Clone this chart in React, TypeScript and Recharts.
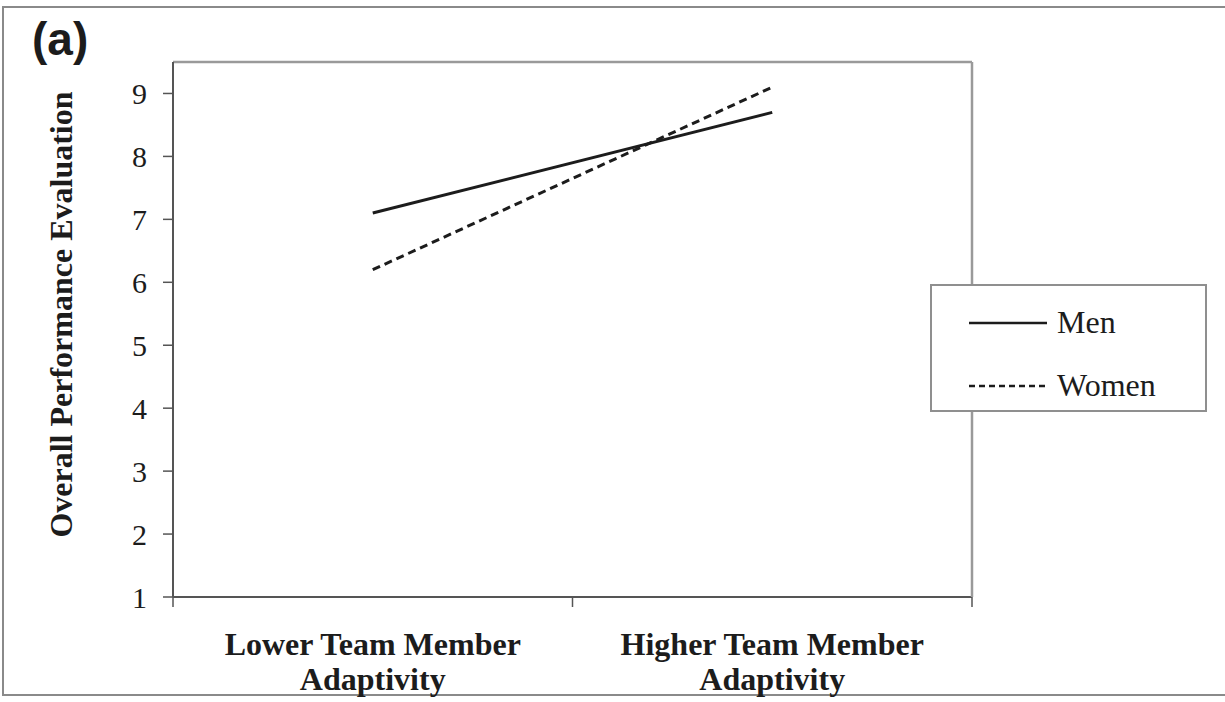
import { LineChart, Line, XAxis, YAxis, Legend } from 'recharts';

const categories = [
  ['Lower Team Member', 'Adaptivity'],
  ['Higher Team Member', 'Adaptivity'],
];
const men = [7.1, 8.7];
const women = [6.2, 9.1];
const yTicks = [1, 2, 3, 4, 5, 6, 7, 8, 9];
const yLabel = 'Overall Performance Evaluation';
const seriesNames = { men: 'Men', women: 'Women' };

const data = categories.map((c, i) => ({ x: i + 0.5, men: men[i], women: women[i] }));
const catTicks = categories.map((_, i) => i + 0.5);
const sepTicks = [0, ...categories.map((_, i) => i + 1)];

const SERIF = '"Liberation Serif", "Times New Roman", serif';
const INK = '#1c1c1c';
const FRAME = '#8a8a8a';

const dashes: Record<string, string | undefined> = { men: undefined, women: '8 5' };
const legendDashes: Record<string, string | undefined> = { men: undefined, women: '6 4' };

function CategoryTick(props: any) {
  const { x, y, payload } = props;
  const lines = categories[Math.floor(payload.value)] || [];
  return (
    <text x={x} y={y} textAnchor="middle" fontFamily={SERIF} fontWeight="bold" fontSize={32} fill={INK}>
      {lines.map((l, i) => (
        <tspan key={i} x={x} y={y + 57 + i * 35}>
          {l}
        </tspan>
      ))}
    </text>
  );
}

function NoLabel() {
  return <g />;
}

function YTitle(props: any) {
  const vb = props.viewBox || {};
  const cx = vb.x + 72;
  const cy = vb.y + vb.height / 2 - 15;
  return (
    <text
      x={cx}
      y={cy}
      transform={`rotate(-90, ${cx}, ${cy})`}
      textAnchor="middle"
      fontFamily={SERIF}
      fontWeight="bold"
      fontSize={32}
      fill={INK}
    >
      {yLabel}
    </text>
  );
}

function LegendBox(props: any) {
  const items = props.payload || [];
  return (
    <svg width={277} height={128} style={{ display: 'block' }}>
      <rect x={1} y={1} width={275} height={126} fill="#fff" stroke="#8f8f8f" strokeWidth={2} />
      {items.map((it: any, i: number) => {
        const key = it.dataKey as string;
        const ly = 39 + i * 63;
        return (
          <g key={key}>
            <line x1={39} x2={117} y1={ly} y2={ly} stroke={INK} strokeWidth={2.5} strokeDasharray={legendDashes[key]} />
            <text x={127} y={ly + 10} fontFamily={SERIF} fontSize={32} fill={INK}>
              {it.value}
            </text>
          </g>
        );
      })}
    </svg>
  );
}

export default function App() {
  return (
    <div style={{ position: 'absolute', left: 0, top: 0, width: 1225, height: 702, overflow: 'hidden', background: '#fff' }}>
      <svg width={1225} height={702} style={{ position: 'absolute', left: 0, top: 0 }}>
        <line x1={3} y1={7} x2={1225} y2={7} stroke={FRAME} strokeWidth={2} />
        <line x1={3} y1={6} x2={3} y2={696} stroke={FRAME} strokeWidth={2} />
        <line x1={3} y1={695} x2={1225} y2={695} stroke={FRAME} strokeWidth={2} />
        <text x={32} y={55} fontFamily='"Liberation Sans", Arial, sans-serif' fontWeight="bold" fontSize={46} fill={INK}>
          (a)
        </text>
      </svg>
      <div style={{ position: 'absolute', left: 0, top: 0 }}>
        <LineChart width={1225} height={702} data={data} margin={{ top: 61, right: 252, bottom: 0, left: 0 }}>
          <XAxis
            xAxisId="a_sep"
            type="number"
            dataKey="x"
            domain={[0, categories.length]}
            ticks={sepTicks}
            tick={<NoLabel />}
            tickSize={10}
            height={1}
            axisLine={{ stroke: '#555', strokeWidth: 2 }}
            tickLine={{ stroke: '#555', strokeWidth: 1.5 }}
          />
          <XAxis
            xAxisId="b_cat"
            type="number"
            dataKey="x"
            domain={[0, categories.length]}
            ticks={catTicks}
            tick={<CategoryTick />}
            tickSize={0}
            tickMargin={0}
            height={104}
            axisLine={false}
            tickLine={false}
          />
          <XAxis
            xAxisId="top"
            orientation="top"
            type="number"
            dataKey="x"
            domain={[0, categories.length]}
            ticks={sepTicks}
            tick={false}
            height={1}
            axisLine={{ stroke: '#9a9a9a', strokeWidth: 2.5 }}
            tickLine={false}
          />
          <YAxis
            yAxisId="left"
            type="number"
            domain={[1, 9.5]}
            ticks={yTicks}
            width={173}
            tickSize={10}
            tickMargin={16}
            tick={{ fontFamily: SERIF, fontSize: 30, fill: INK }}
            axisLine={{ stroke: '#555', strokeWidth: 2 }}
            tickLine={{ stroke: '#555', strokeWidth: 1.5 }}
            label={{ content: <YTitle /> }}
          />
          <YAxis
            yAxisId="right"
            orientation="right"
            type="number"
            domain={[1, 9.5]}
            ticks={yTicks}
            tick={false}
            width={1}
            axisLine={{ stroke: '#9a9a9a', strokeWidth: 2.5 }}
            tickLine={false}
          />
          <Legend
            layout="horizontal"
            verticalAlign="middle"
            align="center"
            content={<LegendBox />}
            wrapperStyle={{ left: 930, top: 284, width: 277, height: 128 }}
          />
          <Line
            xAxisId="b_cat"
            yAxisId="left"
            dataKey="men"
            name={seriesNames.men}
            stroke={INK}
            strokeWidth={3}
            strokeDasharray={dashes.men}
            dot={false}
            isAnimationActive={false}
          />
          <Line
            xAxisId="b_cat"
            yAxisId="left"
            dataKey="women"
            name={seriesNames.women}
            stroke={INK}
            strokeWidth={3}
            strokeDasharray={dashes.women}
            dot={false}
            isAnimationActive={false}
          />
        </LineChart>
      </div>
    </div>
  );
}
